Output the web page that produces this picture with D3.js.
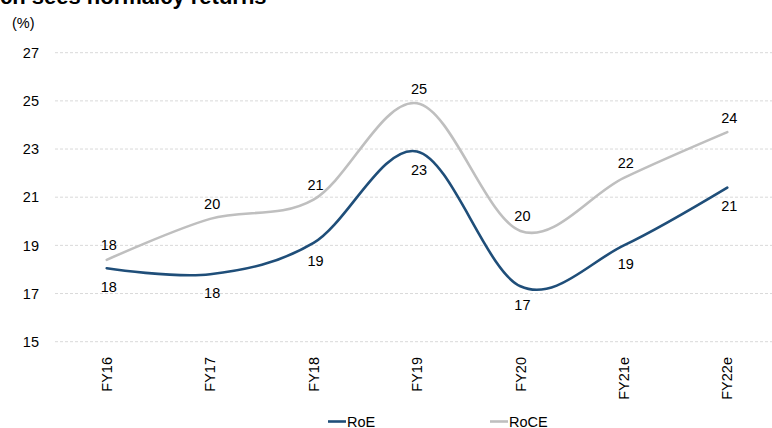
<!DOCTYPE html>
<html>
<head>
<meta charset="utf-8">
<script src="https://cdn.jsdelivr.net/npm/d3@7/dist/d3.min.js"></script>
<style>
  html, body { margin: 0; padding: 0; background: #fff; }
  svg { display: block; font-family: "Liberation Sans", Arial, sans-serif; }
</style>
</head>
<body>
<svg id="chart" width="772" height="428"></svg>
<script>
// Fiscal years on the x axis
const categories = ["FY16", "FY17", "FY18", "FY19", "FY20", "FY21e", "FY22e"];
// Return on equity (%)
const roe = [18.05, 17.8, 19.1, 22.9, 17.3, 19.0, 21.4];
// Return on capital employed (%)
const roce = [18.4, 20.1, 20.9, 24.9, 19.6, 21.8, 23.7];
// Y axis ticks (%)
const yTicks = [15, 17, 19, 21, 23, 25, 27];

const svg = d3.select("#chart");
const W = 772, H = 428;

const x = d3.scaleBand().domain(categories).range([55, 779]);
const cx = d => x(d) + x.bandwidth() / 2;
const y = d3.scaleLinear().domain([15, 27]).range([341.7, 52.7]);

const fontSize = 14.5;

// Title (runs off the top of the frame)
svg.append("text")
  .attr("x", 0).attr("y", 3.5)
  .attr("font-size", 22).attr("font-weight", "bold").attr("fill", "#000")
  .text("ch sees normalcy returns");

// Unit label
svg.append("text")
  .attr("x", 12).attr("y", 28)
  .attr("font-size", fontSize).attr("fill", "#000")
  .text("(%)");

// Gridlines and y tick labels
const yAxis = d3.axisLeft(y).tickValues(yTicks).tickSize(0).tickPadding(16);
const gy = svg.append("g").attr("transform", "translate(55,0)").call(yAxis);
gy.select(".domain").remove();
gy.selectAll("text").attr("font-size", fontSize).attr("font-family", "Liberation Sans, Arial, sans-serif").attr("fill", "#000");

svg.append("g").selectAll("line").data(yTicks).join("line")
  .attr("x1", 55).attr("x2", W)
  .attr("y1", d => y(d)).attr("y2", d => y(d))
  .attr("stroke", "#d9d9d9").attr("stroke-width", 1)
  .attr("stroke-dasharray", "3,2");

// X axis labels, rotated
const xAxis = d3.axisBottom(x).tickSize(0).tickPadding(0);
const gx = svg.append("g").attr("transform", "translate(0,357)").call(xAxis);
gx.select(".domain").remove();
gx.selectAll("text")
  .attr("font-size", fontSize).attr("font-family", "Liberation Sans, Arial, sans-serif").attr("fill", "#000")
  .attr("text-anchor", "end")
  .attr("transform", "rotate(-90)")
  .attr("x", 0).attr("y", 0).attr("dy", "0.35em");

// Smoothed series lines
const line = d3.line()
  .x((d, i) => cx(categories[i]))
  .y(d => y(d))
  .curve(d3.curveCardinal.tension(0));

const series = [
  { name: "RoE", values: roe, color: "#1f4e79", labelPos: "below" },
  { name: "RoCE", values: roce, color: "#bfbfbf", labelPos: "above" }
];

// Draw RoCE first so RoE sits on top
series.slice().reverse().forEach(s => {
  svg.append("path")
    .datum(s.values)
    .attr("d", line)
    .attr("fill", "none")
    .attr("stroke", s.color)
    .attr("stroke-width", 2.6)
    .attr("stroke-linecap", "round");
});

// Data labels (rounded values)
series.forEach(s => {
  svg.append("g").selectAll("text").data(s.values).join("text")
    .attr("x", (d, i) => cx(categories[i]) + 2)
    .attr("y", d => s.labelPos === "above" ? y(d) - 9.5 : y(d) + 23.5)
    .attr("text-anchor", "middle")
    .attr("font-size", fontSize).attr("fill", "#000")
    .text(d => d3.format(".0f")(d));
});

// Legend
const legend = [
  { name: "RoE", color: "#1f4e79", x: 328 },
  { name: "RoCE", color: "#bfbfbf", x: 490 }
];
legend.forEach(l => {
  svg.append("line")
    .attr("x1", l.x).attr("x2", l.x + 18)
    .attr("y1", 421.5).attr("y2", 421.5)
    .attr("stroke", l.color).attr("stroke-width", 2.6);
  svg.append("text")
    .attr("x", l.x + 19).attr("y", 426.5)
    .attr("font-size", fontSize).attr("fill", "#000")
    .text(l.name);
});
</script>
</body>
</html>
